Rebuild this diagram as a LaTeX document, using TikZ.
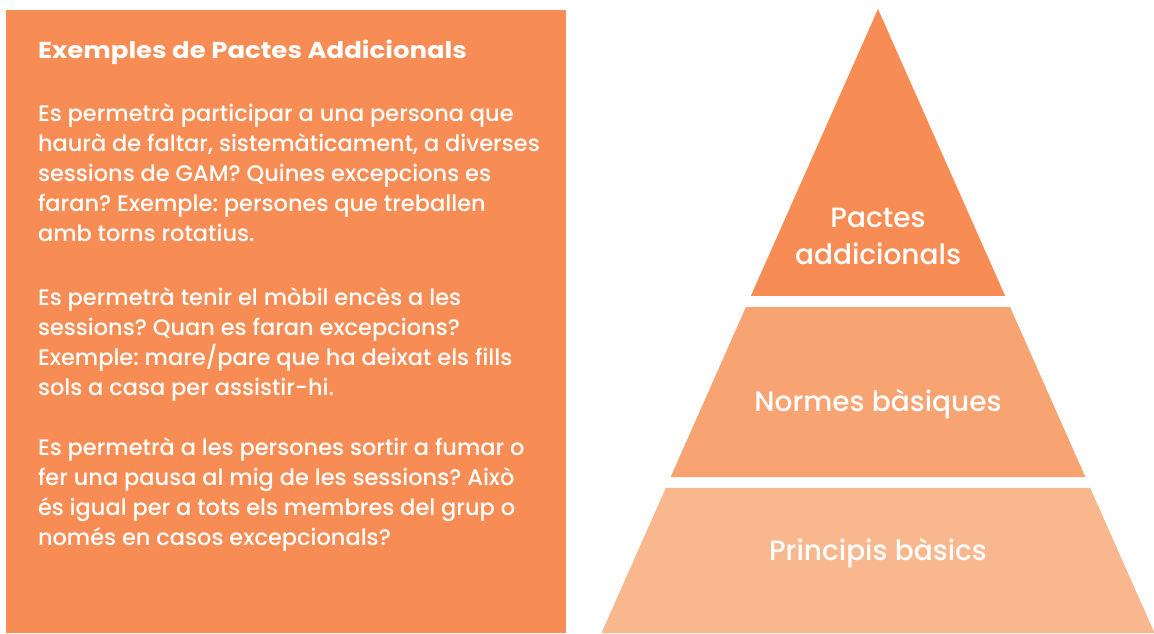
\documentclass[tikz,border=0pt]{standalone}
\usepackage{fontspec}
\setmainfont{Poppins}[UprightFont=* Medium, BoldFont=* Bold]
\usetikzlibrary{calc}
\definecolor{pactes}{RGB}{247,141,84}
\definecolor{normes}{RGB}{247,163,114}
\definecolor{principis}{RGB}{249,183,142}
\frenchspacing

\begin{document}
\begin{tikzpicture}[x=1pt,y=-1pt,
	para/.style={anchor=north west,inner sep=0,outer sep=0,text=white,align=left,font=\fontsize{22.5}{30}\selectfont},
	level/.style={inner sep=0,outer sep=0,text=white,align=center,font=\fontsize{28}{37}\selectfont}]
	\useasboundingbox (0,0) rectangle (1154,633);
	\fill[pactes] (6,10) rectangle (566,633);
	\coordinate (apex) at (878,9);
	\coordinate (bl) at (601.5,633);
	\coordinate (br) at (1154.5,633);
	\fill[pactes] (apex) -- ($(apex)!0.4599!(br)$) -- ($(apex)!0.4599!(bl)$) -- cycle;
	\fill[normes] ($(apex)!0.4776!(bl)$) -- ($(apex)!0.4776!(br)$) -- ($(apex)!0.75!(br)$) -- ($(apex)!0.75!(bl)$) -- cycle;
	\fill[principis] ($(apex)!0.7676!(bl)$) -- ($(apex)!0.7676!(br)$) -- (br) -- (bl) -- cycle;
	\node[para,font=\fontsize{23}{30}\selectfont\bfseries\addfontfeatures{FakeStretch=1.13}] (titol) at (38,40) {Exemples de Pactes Addicionals};
	\node[para] (p1) at (38,104) {Es permetrà participar a una persona que\\haurà de faltar, sistemàticament, a diverses\\sessions de GAM? Quines excepcions es\\faran? Exemple: persones que treballen\\amb torns rotatius.};
	\node[para] (p2) at (38,287) {Es permetrà tenir el mòbil encès a les\\sessions? Quan es faran excepcions?\\Exemple: mare/pare que ha deixat els fills\\sols a casa per assistir-hi.};
	\node[para] (p3) at (38,438) {Es permetrà a les persones sortir a fumar o\\fer una pausa al mig de les sessions? Això\\és igual per a tots els membres del grup o\\només en casos excepcionals?};
	\node[level] (pactes) at (878,236) {Pactes\\addicionals};
	\node[level] (normes) at (878,404) {Normes bàsiques};
	\node[level] (principis) at (878,553) {Principis bàsics};
\end{tikzpicture}
\end{document}
